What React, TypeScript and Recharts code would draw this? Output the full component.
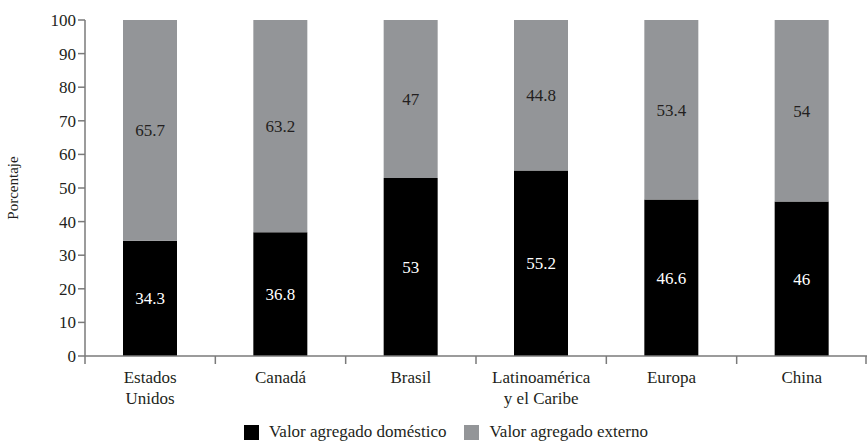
import React from 'react';
import { BarChart, Bar, XAxis, YAxis, Legend, LabelList } from 'recharts';

const categories = ['Estados\nUnidos', 'Canadá', 'Brasil', 'Latinoamérica\ny el Caribe', 'Europa', 'China'];
const domestico = [34.3, 36.8, 53, 55.2, 46.6, 46];
const externo = [65.7, 63.2, 47, 44.8, 53.4, 54];
const yTicks = [0, 10, 20, 30, 40, 50, 60, 70, 80, 90, 100];

const data = categories.map((name, i) => ({
  name,
  domestico: domestico[i],
  externo: externo[i],
}));

const FONT = 'Liberation Serif';
const TEXT = '#231f20';
const AXIS = '#7a7a7a';
const GRAY = '#939598';

const CategoryTick = (props: any) => {
  const { x, y, payload, index, visibleTicksCount } = props;
  const band = (867 - 85) / 6;
  const lines = String(payload.value).split('\n');
  const last = index === (visibleTicksCount ?? 6) - 1;
  return (
    <g>
      <line x1={x - band / 2} x2={x - band / 2} y1={y - 8} y2={y} stroke={AXIS} strokeWidth={1.5} />
      {last && <line x1={x + band / 2 - 1} x2={x + band / 2 - 1} y1={y - 8} y2={y} stroke={AXIS} strokeWidth={1.5} />}
      <text x={x} y={y + 19} textAnchor="middle" style={{ fontFamily: FONT }} fontSize={17} fill={TEXT}>
        {lines.map((l, k) => (
          <tspan key={k} x={x} dy={k === 0 ? 0 : 21}>{l}</tspan>
        ))}
      </text>
    </g>
  );
};

const LegendContent = () => (
  <div style={{ display: 'flex', justifyContent: 'center', fontFamily: FONT, fontSize: 17, color: TEXT }}>
    <span style={{ display: 'flex', alignItems: 'center', marginRight: 18 }}>
      <span style={{ width: 15, height: 15, background: '#000', display: 'inline-block', marginRight: 10 }} />
      Valor agregado doméstico
    </span>
    <span style={{ display: 'flex', alignItems: 'center' }}>
      <span style={{ width: 15, height: 15, background: GRAY, display: 'inline-block', marginRight: 10 }} />
      Valor agregado externo
    </span>
  </div>
);

export default function App() {
  return (
    <div style={{ position: 'absolute', left: 0, top: 0, width: 867, height: 446, background: '#fff', fontFamily: FONT }}>
      <BarChart
        width={867}
        height={446}
        data={data}
        margin={{ top: 20, right: 0, left: 25, bottom: 0 }}
        barSize={54}
        style={{ fontFamily: FONT }}
      >
        <XAxis
          dataKey="name"
          interval={0}
          tickLine={false}
          axisLine={{ stroke: AXIS, strokeWidth: 1.5 }}
          tick={<CategoryTick />}
          height={70}
        />
        <YAxis
          domain={[0, 100]}
          ticks={yTicks}
          interval={0}
          width={60}
          axisLine={{ stroke: AXIS, strokeWidth: 1.5 }}
          tickLine={{ stroke: AXIS, strokeWidth: 1.5 }}
          tickSize={7}
          tick={{ fill: TEXT, fontSize: 17, style: { fontFamily: FONT } }}
          label={{
            value: 'Porcentaje',
            angle: -90,
            position: 'insideLeft',
            offset: -12,
            style: { fill: TEXT, fontSize: 15, fontFamily: FONT, textAnchor: 'middle' },
          }}
        />
        <Legend content={<LegendContent />} verticalAlign="bottom" wrapperStyle={{ bottom: 4 }} />
        <Bar dataKey="domestico" stackId="a" fill="#000" isAnimationActive={false}>
          <LabelList dataKey="domestico" position="center" fill="#fff" fontSize={17} style={{ fontFamily: FONT }} />
        </Bar>
        <Bar dataKey="externo" stackId="a" fill={GRAY} isAnimationActive={false}>
          <LabelList dataKey="externo" position="center" fill={TEXT} fontSize={17} style={{ fontFamily: FONT }} />
        </Bar>
      </BarChart>
    </div>
  );
}
